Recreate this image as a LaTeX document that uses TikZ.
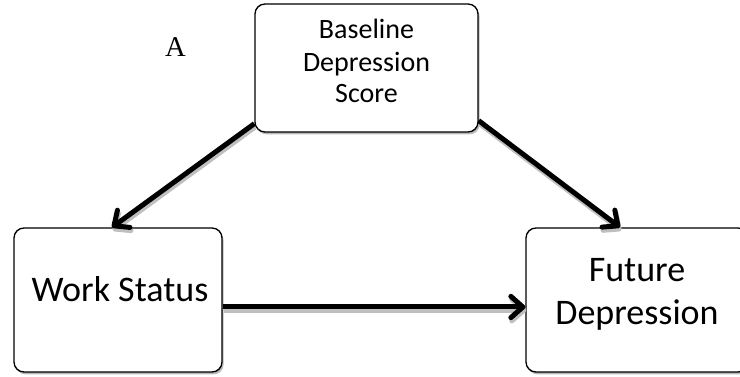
\documentclass[tikz,border=0pt]{standalone}
\usepackage{fontspec}
\setmainfont{Carlito}
\newfontfamily\timesfont{Liberation Serif}
\usetikzlibrary{arrows.meta,calc,shadows}
\begin{document}
\begin{tikzpicture}[x=0.75pt,y=-0.75pt,
  box/.style={draw=black,line width=1pt,rounded corners=7.5pt,fill=white,inner sep=0pt,
    drop shadow={shadow xshift=1.2pt,shadow yshift=-1.8pt,fill=gray!55,opacity=1}},
  smallfont/.style={font=\fontsize{21}{24}\selectfont},
  bigfont/.style={font=\fontsize{27}{32}\selectfont},
  txt/.style={anchor=base,inner sep=0pt,text=black},
  arr/.style={line width=3.75pt,-{Straight Barb[length=9pt,width=16pt,round]}},
  arrshadow/.style={arr,draw=gray!50,transform canvas={xshift=0.75pt,yshift=-2.4pt}}]
\useasboundingbox (0,0) rectangle (740,377);
\clip (0,0) rectangle (740,377);

% boxes
\node[box,minimum width=167.25pt,minimum height=96pt] (bl) at (366.5,68) {};
\node[box,minimum width=156pt,minimum height=108pt] (ws) at (118,300) {};
\node[box,minimum width=166.5pt,minimum height=108pt] (fd) at (637,300) {};

% helper coordinates for arrows
\coordinate (a1s) at ($(bl.south west)+(0,-9)$);
\coordinate (a1e) at ($(ws.north)+(-6,0)$);
\coordinate (a2s) at ($(bl.south east)+(0,-12)$);
\coordinate (a2e) at ($(fd.north)+(-17,0)$);
\coordinate (a3s) at ($(ws.east)+(0,7)$);
\coordinate (a3e) at ($(fd.west)+(0,7)$);

% arrow shadows
\draw[arrshadow] (a1s) -- (a1e);
\draw[arrshadow] (a2s) -- (a2e);
\draw[arrshadow] (a3s) -- (a3e);
% arrows
\draw[arr] (a1s) -- (a1e);
\draw[arr] (a2s) -- (a2e);
\draw[arr] (a3s) -- (a3e);

% texts
\node[txt,smallfont] (t1) at (366.5,39) {Baseline};
\node[txt,smallfont] (t2) at (366.5,72) {Depression};
\node[txt,smallfont] (t3) at (366.5,103) {Score};
\node[txt,bigfont] (t4) at (120,302) {Work Status};
\node[txt,bigfont] (t5) at (637,282) {Future};
\node[txt,bigfont] (t6) at (637,325) {Depression};

% label A
\node[txt,font=\timesfont\fontsize{21.5}{24}\selectfont] (lblA) at (175.5,57) {A};
\end{tikzpicture}
\end{document}
